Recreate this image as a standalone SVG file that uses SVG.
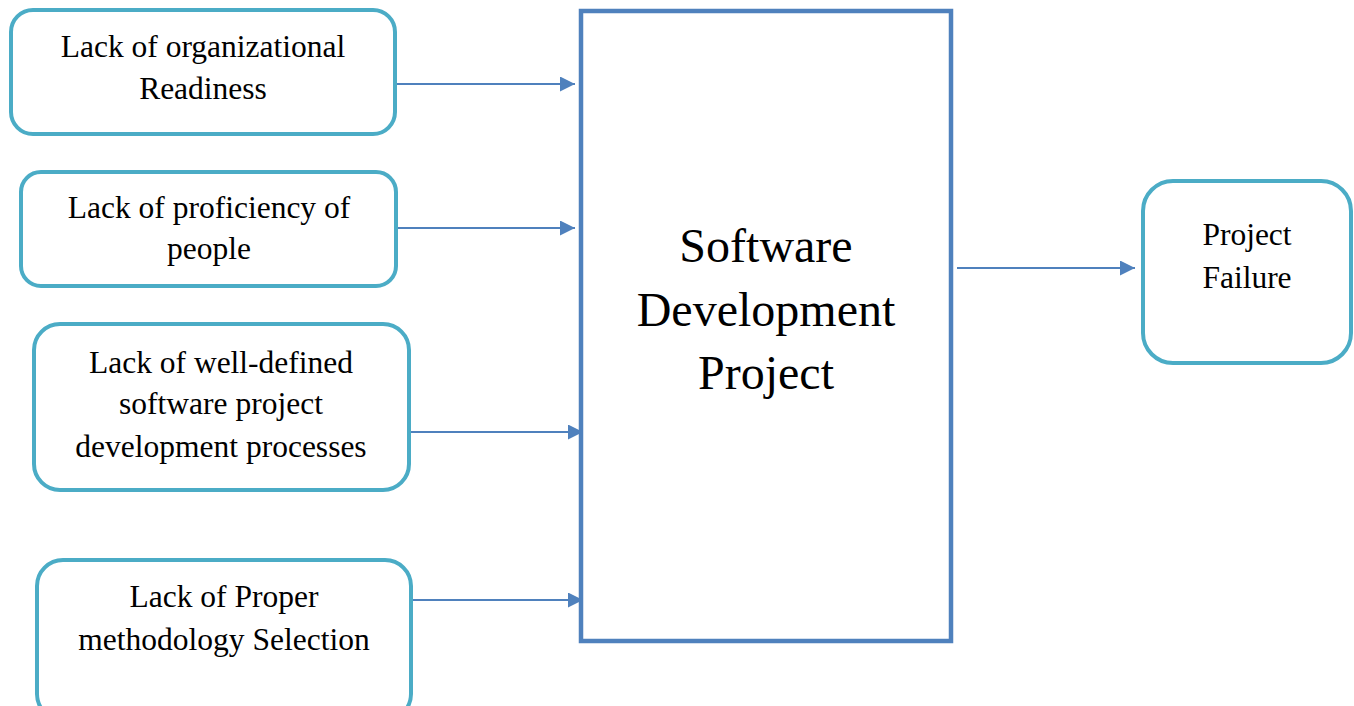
<svg xmlns="http://www.w3.org/2000/svg" width="1354" height="706" viewBox="0 0 1354 706">
  <style>
    .cause { fill: #ffffff; stroke: #4bacc6; stroke-width: 4; }
    .core { fill: #ffffff; stroke: #4f81bd; stroke-width: 4.5; }
    .label { font-family: "Liberation Serif", "Times New Roman", serif; font-size: 31.5px; fill: #000000; text-anchor: middle; }
    .big { font-family: "Liberation Serif", "Times New Roman", serif; font-size: 48px; fill: #000000; text-anchor: middle; }
    .link { stroke: #4f81bd; stroke-width: 2; fill: none; marker-end: url(#arrow); }
  </style>
  <defs>
    <marker id="arrow" viewBox="0 0 10 10" refX="10" refY="5" markerWidth="8" markerHeight="7.5" markerUnits="strokeWidth" orient="auto">
      <path d="M0,0 L10,5 L0,10 z" fill="#4f81bd"/>
    </marker>
  </defs>

  <rect width="1354" height="706" fill="#ffffff"/>

  <!-- connectors -->
  <g id="connectors">
    <line class="link" x1="397" y1="84" x2="575" y2="84"/>
    <line class="link" x1="397" y1="228" x2="575" y2="228"/>
    <line class="link" x1="410" y1="432" x2="583" y2="432"/>
    <line class="link" x1="410" y1="600" x2="583" y2="600"/>
    <line class="link" x1="957" y1="268" x2="1135" y2="268"/>
  </g>

  <g id="readiness">
    <rect class="cause" x="11" y="10" width="384" height="124" rx="22"/>
    <text class="label" x="203" y="57">Lack of organizational</text>
    <text class="label" x="203" y="99">Readiness</text>
  </g>

  <g id="proficiency">
    <rect class="cause" x="21" y="172" width="375" height="114" rx="20"/>
    <text class="label" x="209" y="218">Lack of proficiency of</text>
    <text class="label" x="209" y="259">people</text>
  </g>

  <g id="processes">
    <rect class="cause" x="34" y="324" width="375" height="166" rx="26"/>
    <text class="label" x="221" y="373">Lack of well-defined</text>
    <text class="label" x="221" y="414">software project</text>
    <text class="label" x="221" y="457">development processes</text>
  </g>

  <g id="methodology">
    <rect class="cause" x="37" y="560" width="374" height="160" rx="26"/>
    <text class="label" x="224" y="607">Lack of Proper</text>
    <text class="label" x="224" y="650">methodology Selection</text>
  </g>

  <g id="project">
    <rect class="core" x="581" y="11" width="370" height="630"/>
    <text class="big" x="766" y="262">Software</text>
    <text class="big" x="766" y="326">Development</text>
    <text class="big" x="766" y="389">Project</text>
  </g>

  <g id="failure">
    <rect class="cause" x="1143" y="181" width="208" height="182" rx="30"/>
    <text class="label" x="1247" y="245">Project</text>
    <text class="label" x="1247" y="288">Failure</text>
  </g>
</svg>
